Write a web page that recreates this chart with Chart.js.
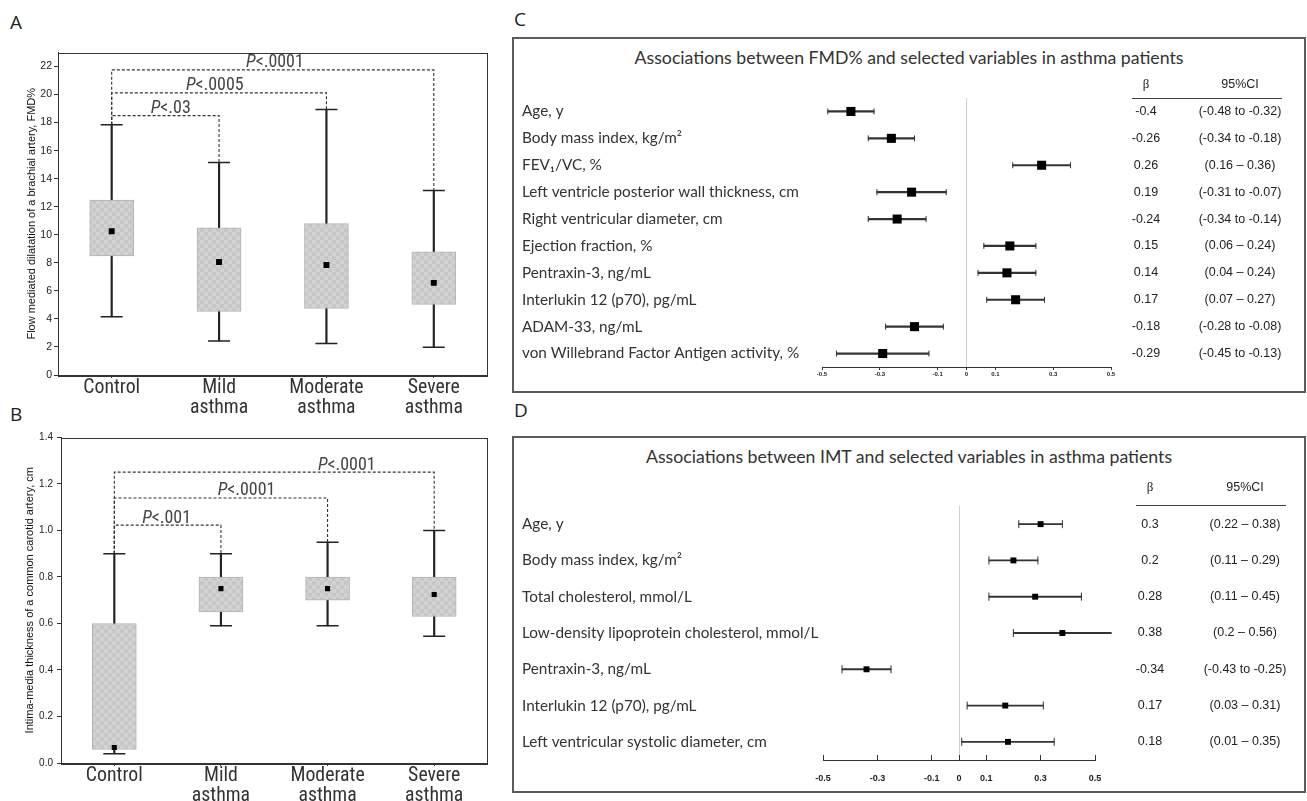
<!DOCTYPE html>
<html>
<head>
<meta charset="utf-8">
<title>FMD and IMT in asthma patients</title>
<script src="https://cdn.jsdelivr.net/npm/chart.js@4.4.1/dist/chart.umd.min.js"></script>
<style>
  html, body { margin: 0; padding: 0; background: #fff; }
  body { position: relative; width: 1307px; height: 801px; overflow: hidden; }
  canvas { position: absolute; }
  .tag { position: absolute; font-family: "Open Sans", sans-serif; font-size: 19px; line-height: 26px; color: #222; }
  .frame { position: absolute; border: 2px solid #5c5c5c; box-sizing: border-box; }
  .head { position: absolute; left: 513px; width: 792px; text-align: center; color: #333; white-space: nowrap; font-family: Lato, sans-serif; }
</style>
</head>
<body>
<div class="tag" style="left:10px;top:9px">A</div>
<div class="tag" style="left:10px;top:401px">B</div>
<div class="tag" style="left:514px;top:6px">C</div>
<div class="tag" style="left:514px;top:397px">D</div>
<div class="frame" style="left:512px;top:37px;width:794px;height:356px"></div>
<div class="frame" style="left:512px;top:436px;width:794px;height:357px"></div>
<div class="head" id="headC">Associations between FMD% and selected variables in asthma patients</div>
<div class="head" id="headD">Associations between IMT and selected variables in asthma patients</div>
<canvas id="boxA" width="500" height="380" style="left:0;top:40px"></canvas>
<canvas id="boxB" width="500" height="376" style="left:0;top:425px"></canvas>
<canvas id="forestC" width="790" height="352" style="left:514px;top:39px"></canvas>
<canvas id="forestD" width="790" height="353" style="left:514px;top:438px"></canvas>
<script>
// groups for the box plots
const groups = ['Control', 'Mild asthma', 'Moderate asthma', 'Severe asthma'];

// A: flow mediated dilatation, FMD%
const fmdMin  = [4.15, 2.43, 2.25, 1.98];
const fmdQ1   = [8.5, 4.53, 4.74, 5.04];
const fmdMean = [10.25, 8.06, 7.84, 6.57];
const fmdQ3   = [12.48, 10.5, 10.8, 8.79];
const fmdMax  = [17.85, 15.15, 18.93, 13.16];
const fmdTicks = [0, 2, 4, 6, 8, 10, 12, 14, 16, 18, 20, 22];
const fmdVs = [1, 2, 3];                 // group compared with Control
const fmdLevels = [18.5, 20.12, 21.76];
const fmdP = ['.03', '.0005', '.0001'];

// B: intima-media thickness, cm
const imtMin  = [0.04, 0.59, 0.59, 0.545];
const imtQ1   = [0.058, 0.65, 0.7, 0.63];
const imtMean = [0.067, 0.75, 0.75, 0.725];
const imtQ3   = [0.6, 0.8, 0.8, 0.8];
const imtMax  = [0.9, 0.9, 0.95, 1.0];
const imtTicks = [0, 0.2, 0.4, 0.6, 0.8, 1.0, 1.2, 1.4];
const imtVs = [1, 2, 3];
const imtLevels = [1.023, 1.14, 1.251];
const imtP = ['.001', '.0001', '.0001'];

// C: FMD% associations
const fmdRows = ['Age, y', 'Body mass index, kg/m\u00b2', 'FEV\u2081/VC, %', 'Left ventricle posterior wall thickness, cm',
  'Right ventricular diameter, cm', 'Ejection fraction, %', 'Pentraxin-3, ng/mL', 'Interlukin 12 (p70), pg/mL',
  'ADAM-33, ng/mL', 'von Willebrand Factor Antigen activity, %'];
const fmdBeta = [-0.4, -0.26, 0.26, -0.19, -0.24, 0.15, 0.14, 0.17, -0.18, -0.29];
const fmdLo   = [-0.48, -0.34, 0.16, -0.31, -0.34, 0.06, 0.04, 0.07, -0.28, -0.45];
const fmdHi   = [-0.32, -0.18, 0.36, -0.07, -0.14, 0.24, 0.24, 0.27, -0.08, -0.13];
const fmdBetaText = ['-0.4', '-0.26', '0.26', '0.19', '-0.24', '0.15', '0.14', '0.17', '-0.18', '-0.29'];
const fmdCiText = ['(-0.48 to -0.32)', '(-0.34 to -0.18)', '(0.16 \u2013 0.36)', '(-0.31 to -0.07)', '(-0.34 to -0.14)',
  '(0.06 \u2013 0.24)', '(0.04 \u2013 0.24)', '(0.07 \u2013 0.27)', '(-0.28 to -0.08)', '(-0.45 to -0.13)'];

// D: IMT associations
const imtRows = ['Age, y', 'Body mass index, kg/m\u00b2', 'Total cholesterol, mmol/L', 'Low-density lipoprotein cholesterol, mmol/L',
  'Pentraxin-3, ng/mL', 'Interlukin 12 (p70), pg/mL', 'Left ventricular systolic diameter, cm'];
const imtBeta = [0.3, 0.2, 0.28, 0.38, -0.34, 0.17, 0.18];
const imtLo   = [0.22, 0.11, 0.11, 0.2, -0.43, 0.03, 0.01];
const imtHi   = [0.38, 0.29, 0.45, 0.56, -0.25, 0.31, 0.35];
const imtBetaText = ['0.3', '0.2', '0.28', '0.38', '-0.34', '0.17', '0.18'];
const imtCiText = ['(0.22 \u2013 0.38)', '(0.11 \u2013 0.29)', '(0.11 \u2013 0.45)', '(0.2 \u2013 0.56)', '(-0.43 to -0.25)',
  '(0.03 \u2013 0.31)', '(0.01 \u2013 0.35)'];

const forestTicks = [-0.5, -0.3, -0.1, 0, 0.1, 0.3, 0.5];

// ---- fonts ----
function fontAvailable(name) {
  const g = document.createElement('canvas').getContext('2d');
  const s = 'abcdefghijklmnopqrstuvwxyz0123456789';
  g.font = '40px monospace';
  const a = g.measureText(s).width;
  g.font = '40px "' + name + '", monospace';
  return Math.abs(g.measureText(s).width - a) > 0.5;
}
function fitSize(text, family, width) {
  const g = document.createElement('canvas').getContext('2d');
  g.font = '100px "' + family + '"';
  return Math.round(1000 * width / g.measureText(text).width) / 10;
}
const NARROW = ['Liberation Sans Narrow', 'Roboto Condensed', 'DejaVu Sans Condensed'].find(fontAvailable) || 'Lato';
const xLabSize = fitSize('Control', NARROW, 57);
const pSize = fitSize('P<.0001', NARROW, 58);
// row labels must stay inside the label column (they are clipped at the plot edge)
const rowSize = Math.min(fitSize('Interlukin 12 (p70), pg/mL', 'Lato', 201),
  ...fmdRows.concat(imtRows).map(r => fitSize(r, 'Lato', 296)));
const headSize = fitSize('Associations between FMD% and selected variables in asthma patients', 'Lato', 550);

const headC = document.getElementById('headC');
const headD = document.getElementById('headD');
[[headC, 58], [headD, 457]].forEach(([el, cy]) => {
  el.style.fontSize = headSize + 'px';
  el.style.lineHeight = (headSize * 1.2) + 'px';
  el.style.top = (cy - headSize * 0.6) + 'px';
});

Chart.defaults.font.family = '"Liberation Sans", Arial, sans-serif';

function checker() {
  const c = document.createElement('canvas');
  c.width = 8; c.height = 8;
  const g = c.getContext('2d');
  g.fillStyle = '#c7c7c7'; g.fillRect(0, 0, 8, 8);
  g.fillStyle = '#d2d2d2'; g.fillRect(0, 0, 4, 4); g.fillRect(4, 4, 4, 4);
  return g.createPattern(c, 'repeat');
}
const boxFill = checker();

// frame round the plot area
const framePlugin = {
  id: 'frame',
  afterDraw(chart) {
    const {ctx, chartArea: a} = chart;
    ctx.save();
    ctx.strokeStyle = '#333';
    ctx.lineWidth = 1;
    ctx.strokeRect(Math.round(a.left) + 0.5, Math.round(a.top) + 0.5, Math.round(a.right - a.left) - 1, Math.round(a.bottom - a.top));
    ctx.restore();
  }
};

// "P<..." labels over the brackets
const pLabelPlugin = {
  id: 'plabels',
  afterDatasetsDraw(chart, args, o) {
    const {ctx, scales: {x, y}} = chart;
    ctx.save();
    ctx.fillStyle = '#444';
    ctx.textBaseline = 'alphabetic';
    o.text.forEach((t, i) => {
      const cx = x.getPixelForValue(o.at[i]);
      const by = y.getPixelForValue(o.levels[i]) - 2.5;
      ctx.font = 'italic ' + o.size + 'px "' + o.family + '"';
      const w1 = ctx.measureText('P').width;
      ctx.font = o.size + 'px "' + o.family + '"';
      const w2 = ctx.measureText('<' + t).width;
      const x0 = cx - (w1 + w2) / 2;
      ctx.font = 'italic ' + o.size + 'px "' + o.family + '"';
      ctx.fillText('P', x0, by);
      ctx.font = o.size + 'px "' + o.family + '"';
      ctx.fillText('<' + t, x0 + w1, by);
    });
    ctx.restore();
  }
};

// beta / 95%CI columns right of the forest plot
const tablePlugin = {
  id: 'table',
  afterDraw(chart, args, o) {
    const {ctx, chartArea: a, scales: {y}} = chart;
    const bx = a.right + o.betaX, cx = a.right + o.ciX;
    ctx.save();
    ctx.fillStyle = '#222';
    ctx.textAlign = 'center';
    ctx.textBaseline = 'middle';
    ctx.font = '13px "Liberation Serif", serif';
    ctx.fillText('\u03b2', bx, a.top + o.headY);
    ctx.font = '12.5px "Liberation Sans", Arial';
    ctx.fillText('95%CI', cx, a.top + o.headY);
    ctx.strokeStyle = '#3b3f58';
    ctx.lineWidth = 1;
    ctx.beginPath();
    ctx.moveTo(a.right + o.lineFrom, Math.round(a.top + o.lineY) + 0.5);
    ctx.lineTo(a.right + o.lineTo, Math.round(a.top + o.lineY) + 0.5);
    ctx.stroke();
    o.beta.forEach((t, i) => {
      const py = y.getPixelForValue(i);
      ctx.fillText(t, bx, py);
      ctx.fillText(o.ci[i], cx, py);
    });
    ctx.restore();
  }
};

function boxChart(id, o) {
  const datasets = [
    { type: 'bar', data: o.min.map((v, i) => [v, o.max[i]]), backgroundColor: '#222', barThickness: 1.5, grouped: false, order: 6 },
    { type: 'bar', data: o.q1.map((v, i) => [v, o.q3[i]]), backgroundColor: boxFill, borderColor: '#b3b3b3', borderWidth: 1,
      borderSkipped: false, barThickness: 44, grouped: false, order: 5 },
    { type: 'line', data: o.max, showLine: false, pointStyle: 'line', pointRadius: 11, pointBorderWidth: 1.5, pointBorderColor: '#222', order: 4 },
    { type: 'line', data: o.min, showLine: false, pointStyle: 'line', pointRadius: 11, pointBorderWidth: 1.5, pointBorderColor: '#222', order: 4 },
    { type: 'line', data: o.mean, showLine: false, pointStyle: 'rect', pointRadius: o.dot, pointBackgroundColor: '#000', pointBorderWidth: 0, order: 1 }
  ];
  o.vs.forEach((t, k) => {
    datasets.push({
      type: 'line',
      data: [{x: groups[0], y: o.max[0]}, {x: groups[0], y: o.levels[k]}, {x: groups[t], y: o.levels[k]}, {x: groups[t], y: o.max[t]}],
      borderColor: '#333', borderWidth: 1.1, borderDash: [3, 2], pointRadius: 0, order: 0
    });
  });
  return new Chart(document.getElementById(id), {
    type: 'bar',
    data: { labels: groups, datasets: datasets },
    options: {
      responsive: false,
      animation: false,
      layout: { padding: { left: 0, right: 7, top: 11, bottom: 0 } },
      plugins: {
        legend: { display: false },
        tooltip: { enabled: false },
        plabels: { text: o.p, at: o.pAt, levels: o.levels, size: pSize, family: NARROW }
      },
      scales: {
        x: {
          offset: true,
          grid: { offset: false, drawOnChartArea: false, tickLength: 3, color: '#333' },
          border: { color: '#333' },
          ticks: {
            autoSkip: false, maxRotation: 0, padding: 0, color: '#333',
            font: { family: NARROW, size: xLabSize, lineHeight: '20px' },
            callback: (v, i) => groups[i].split(' ')
          },
          afterFit: s => { s.height = o.xh; }
        },
        y: {
          min: 0, max: o.top,
          afterBuildTicks: s => { s.ticks = o.ticks.map(v => ({ value: v })); },
          grid: { drawOnChartArea: false, tickLength: 4, color: '#333' },
          border: { color: '#333' },
          ticks: { padding: o.tickPad, color: '#222', font: { size: o.tickSize }, callback: o.fmt },
          title: { display: true, text: o.title, color: '#111', font: { size: 11 }, padding: { top: o.titlePad, bottom: 0 } },
          afterFit: s => { s.width = o.yw; }
        }
      }
    },
    plugins: [framePlugin, pLabelPlugin]
  });
}

function forestChart(id, o) {
  const caps = { type: 'line', indexAxis: 'y', showLine: false, pointStyle: 'line', pointRotation: 90, pointRadius: o.cap,
    pointBorderWidth: 1, pointBorderColor: '#333', clip: false, order: 2 };
  return new Chart(document.getElementById(id), {
    type: 'bar',
    data: {
      labels: o.rows,
      datasets: [
        { indexAxis: 'y', data: o.lo.map((v, i) => [v, o.hi[i]]), backgroundColor: '#333', barThickness: o.bar, grouped: false, clip: false, order: 3 },
        Object.assign({ data: o.lo }, caps),
        Object.assign({ data: o.hi }, caps),
        { type: 'line', indexAxis: 'y', data: o.beta, showLine: false, pointStyle: 'rect', pointRadius: o.dot,
          pointBackgroundColor: '#000', pointBorderWidth: 0, clip: false, order: 1 }
      ]
    },
    options: {
      indexAxis: 'y',
      responsive: false,
      animation: false,
      layout: { padding: { left: 8, right: o.padRight, top: o.padTop, bottom: 0 } },
      plugins: {
        legend: { display: false },
        tooltip: { enabled: false },
        table: o.table
      },
      scales: {
        y: {
          offset: true,
          grid: { display: false },
          border: { display: false },
          ticks: { crossAlign: 'far', padding: 0, autoSkip: false, color: '#333', font: { family: 'Lato', size: rowSize } },
          afterFit: s => { s.width = o.yw; }
        },
        x: {
          min: -0.5, max: 0.5,
          afterBuildTicks: s => { s.ticks = forestTicks.map(v => ({ value: v })); },
          grid: {
            color: c => (c.tick && c.tick.value === 0 ? '#cfcfcf' : 'rgba(0,0,0,0)'),
            tickColor: '#333', tickLength: o.tickLen
          },
          border: { color: '#333' },
          ticks: { padding: o.tickPad, color: '#222', font: { size: o.tickSize, weight: 'bold' },
            callback: v => (v === 0 ? '0' : String(v)) },
          afterFit: s => { s.height = o.xh; }
        }
      }
    },
    plugins: [tablePlugin]
  });
}

boxChart('boxA', {
  min: fmdMin, q1: fmdQ1, mean: fmdMean, q3: fmdQ3, max: fmdMax, dot: 4.2,
  vs: fmdVs, levels: fmdLevels, p: fmdP, pAt: [0.55, 0.96, 1.52],
  top: 23, ticks: fmdTicks, fmt: v => String(v), tickSize: 10.5, tickPad: 2,
  title: 'Flow mediated dilatation of a brachial artery, FMD%', titlePad: 25, yw: 58, xh: 45
});

boxChart('boxB', {
  min: imtMin, q1: imtQ1, mean: imtMean, q3: imtQ3, max: imtMax, dot: 3.6,
  vs: imtVs, levels: imtLevels, p: imtP, pAt: [0.49, 1.24, 2.18],
  top: 1.4, ticks: imtTicks, fmt: v => v.toFixed(1), tickSize: 10, tickPad: 4,
  title: 'Intima-media thickness of a common carotid artery, cm', titlePad: 23.5, yw: 61, xh: 38
});

forestChart('forestC', {
  rows: fmdRows, beta: fmdBeta, lo: fmdLo, hi: fmdHi, bar: 1.5, cap: 3, dot: 6.4,
  yw: 300, padRight: 193, padTop: 59, xh: 24, tickLen: 3, tickPad: 1, tickSize: 6,
  table: { beta: fmdBetaText, ci: fmdCiText, betaX: 35, ciX: 129, headY: -13, lineFrom: 21, lineTo: 171, lineY: 0 }
});

forestChart('forestD', {
  rows: imtRows, beta: imtBeta, lo: imtLo, hi: imtHi, bar: 1.2, cap: 4, dot: 4.2,
  yw: 301, padRight: 209, padTop: 68, xh: 31, tickLen: -5, tickPad: 18, tickSize: 9,
  table: { beta: imtBetaText, ci: imtCiText, betaX: 55, ciX: 150, headY: -18, lineFrom: 41, lineTo: 191, lineY: -1 }
});
</script>
</body>
</html>
